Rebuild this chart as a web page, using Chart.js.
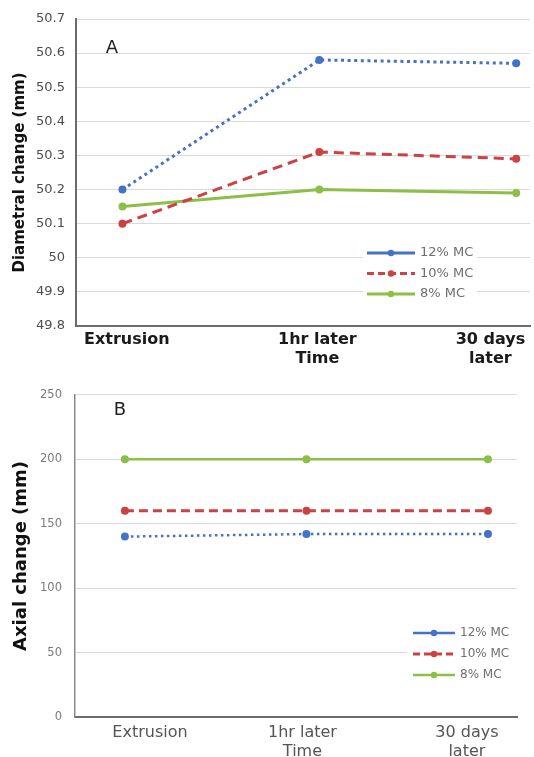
<!DOCTYPE html>
<html>
<head>
<meta charset="utf-8">
<script src="https://cdn.jsdelivr.net/npm/chart.js@4.4.1/dist/chart.umd.min.js"></script>
<style>
  html, body { margin: 0; padding: 0; background: #fff; }
  #wrapA { position: absolute; left: 0; top: 0; width: 534px; height: 375px; }
  #wrapB { position: absolute; left: 0; top: 375px; width: 534px; height: 382px; }
</style>
</head>
<body>
<div id="wrapA"><canvas id="chartA"></canvas></div>
<div id="wrapB"><canvas id="chartB"></canvas></div>
<script>
// dati
const timeLabels = [["Extrusion"], ["1hr later", "Time"], ["30 days", "later"]];
const seriesNames = ["12% MC", "10% MC", "8% MC"];
const diametral12 = [50.2, 50.58, 50.57];
const diametral10 = [50.1, 50.31, 50.29];
const diametral8 = [50.15, 50.2, 50.19];
const axial12 = [140, 142, 142];
const axial10 = [160, 160, 160];
const axial8 = [200, 200, 200];
const diametralRange = [49.8, 50.7, 0.1];
const axialRange = [0, 250, 50];

const BLUE = "#4472c4", RED = "#cc4141", GREEN = "#8cbf45";
const FONT = "'DejaVu Sans', sans-serif";

// legenda disegnata dentro l'area del grafico (come in Excel)
const insideLegend = {
    id: "insideLegend",
    afterDraw(chart, args, o) {
        const ctx = chart.ctx;
        ctx.save();
        ctx.fillStyle = "#fff";
        ctx.fillRect(o.box[0], o.box[1], o.box[2], o.box[3]);
        chart.data.datasets.forEach(function (ds, i) {
            const y = o.y + i * o.rowGap;
            ctx.strokeStyle = ds.borderColor;
            ctx.lineWidth = ds.borderWidth;
            ctx.setLineDash(ds.legendDash || []);
            ctx.beginPath();
            ctx.moveTo(o.x, y);
            ctx.lineTo(o.x + o.lineLen, y);
            ctx.stroke();
            ctx.setLineDash([]);
            ctx.fillStyle = ds.pointBackgroundColor;
            ctx.beginPath();
            ctx.arc(o.x + o.lineLen / 2, y, o.dot, 0, Math.PI * 2);
            ctx.fill();
            ctx.fillStyle = o.color;
            ctx.font = o.font;
            ctx.textBaseline = "middle";
            ctx.textAlign = "left";
            ctx.fillText(ds.label, o.x + o.lineLen + o.gap, y);
        });
        // lettera del pannello
        ctx.fillStyle = "#222";
        ctx.font = o.panelFont;
        ctx.textAlign = "center";
        ctx.fillText(o.panel, o.panelX, o.panelY);
        ctx.restore();
    }
};

function toPoints(values) {
    return values.map((v, i) => ({ x: i, y: v }));
}

function buildChart(id, p) {
    return new Chart(document.getElementById(id), {
        type: "line",
        data: {
            datasets: [
                { label: seriesNames[0], data: toPoints(p.series[0]), borderColor: BLUE, pointBackgroundColor: BLUE,
                  borderWidth: p.lw[0], borderDash: p.dash[0], legendDash: [], pointRadius: p.dot, pointBorderWidth: 0 },
                { label: seriesNames[1], data: toPoints(p.series[1]), borderColor: RED, pointBackgroundColor: RED,
                  borderWidth: p.lw[1], borderDash: p.dash[1], legendDash: [7, 4], pointRadius: p.dot, pointBorderWidth: 0 },
                { label: seriesNames[2], data: toPoints(p.series[2]), borderColor: GREEN, pointBackgroundColor: GREEN,
                  borderWidth: p.lw[2], borderDash: [], legendDash: [], pointRadius: p.dot, pointBorderWidth: 0 }
            ]
        },
        options: {
            responsive: true,
            maintainAspectRatio: false,
            animation: false,
            layout: { padding: p.padding },
            plugins: {
                legend: { display: false },
                tooltip: { enabled: false },
                insideLegend: p.legend
            },
            scales: {
                x: {
                    type: "linear",
                    min: p.xMin, max: p.xMax,
                    grid: { display: false, drawTicks: false },
                    border: { display: true, color: "#6b6b6b", width: 2 },
                    afterBuildTicks: s => { s.ticks = timeLabels.map((t, i) => ({ value: i + p.labelShift[i] })); },
                    afterFit: s => { s.height = p.xHeight; },
                    ticks: {
                        autoSkip: false, maxRotation: 0, padding: p.xPad,
                        color: p.xColor, font: { family: FONT, size: 16, weight: p.xWeight },
                        callback: (v, i) => timeLabels[i]
                    }
                },
                y: {
                    min: p.range[0], max: p.range[1],
                    grid: { color: "#dadada", lineWidth: 1, drawTicks: false },
                    border: { display: true, color: p.yAxisColor, width: p.yAxisWidth },
                    afterFit: s => { s.width = p.yWidth; },
                    ticks: {
                        stepSize: p.range[2], padding: p.yPad,
                        color: p.yColor, font: { family: FONT, size: p.yFont },
                        callback: v => String(+v.toFixed(1))
                    },
                    title: {
                        display: true, text: p.yTitle, color: "#111",
                        font: { family: FONT, size: p.yTitleFont, weight: "bold" },
                        padding: { top: p.yTitlePad, bottom: 0 }
                    }
                }
            }
        },
        plugins: [insideLegend]
    });
}

window.addEventListener("load", function () {
    buildChart("chartA", {
        series: [diametral12, diametral10, diametral8],
        range: diametralRange,
        lw: [3, 3, 3], dash: [[3, 3.6], [10, 6]], dot: 4,
        padding: { top: 19, right: 1, left: 0, bottom: 0 },
        xMin: -0.236, xMax: 2.07, labelShift: [0.022, -0.01, -0.131],
        xHeight: 49, xPad: 4, xColor: "#1a1a1a", xWeight: "bold",
        yWidth: 76, yPad: 11, yColor: "#4d4d4d", yFont: 13,
        yAxisColor: "#6b6b6b", yAxisWidth: 2,
        yTitle: "Diametral change (mm)", yTitleFont: 15, yTitlePad: 11,
        legend: {
            box: [363, 243, 114, 61], x: 367, y: 253, rowGap: 20.5, lineLen: 48, gap: 5, dot: 3.2,
            color: "#6e6e6e", font: "13px " + FONT,
            panel: "A", panelX: 112, panelY: 48, panelFont: "18px " + FONT
        }
    });

    buildChart("chartB", {
        series: [axial12, axial10, axial8],
        range: axialRange,
        lw: [2.5, 3, 2.5], dash: [[2.5, 3.5], [9, 5]], dot: 4,
        padding: { top: 14, right: 17, left: 0, bottom: 0 },
        xMin: -0.275, xMax: 2.16, labelShift: [0.138, -0.022, -0.116],
        xHeight: 40, xPad: 6, xColor: "#555", xWeight: "normal",
        yWidth: 75, yPad: 13, yColor: "#7a7a7a", yFont: 11.5,
        yAxisColor: "#8a8a8a", yAxisWidth: 1.5,
        yTitle: "Axial change (mm)", yTitleFont: 18, yTitlePad: 11,
        legend: {
            box: [407, 247, 110, 62], x: 413, y: 258, rowGap: 21, lineLen: 42, gap: 5, dot: 3.2,
            color: "#6e6e6e", font: "12px " + FONT,
            panel: "B", panelX: 120, panelY: 35, panelFont: "18px " + FONT
        }
    });
});
</script>
</body>
</html>
